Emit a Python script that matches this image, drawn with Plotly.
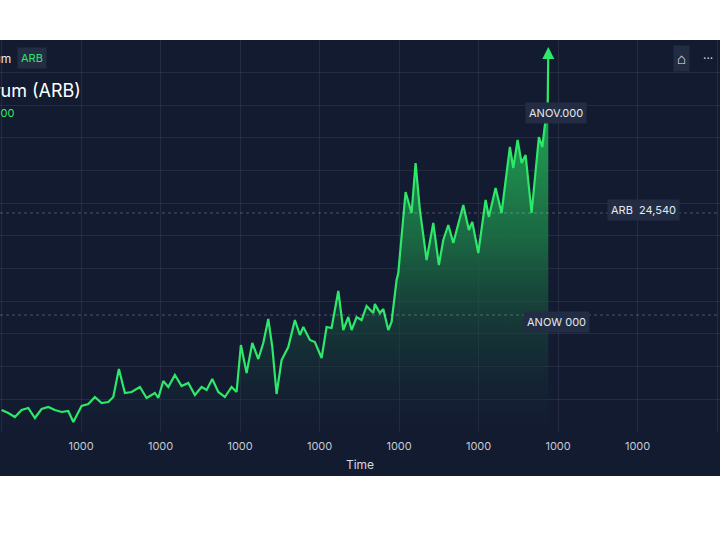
import plotly.graph_objects as go

# price trace (pixel positions converted to axis units below)
px_x = [0, 6.7, 13.3, 20, 26.7, 33.3, 40, 46.7, 53.3, 60, 66.7, 71.7, 80, 86.7, 93.3, 100, 106.7,
        111.7, 117.3, 123.3, 130, 138.3, 145, 153.3, 156.7, 161.7, 166.7, 173.3, 180, 186.7, 193.3,
        200, 205, 210.7, 216.7, 223.3, 230, 235, 239.3, 245, 250.7, 256.7, 261.7, 266.7, 270.7, 275,
        280, 286.7, 293.3, 298.3, 301.7, 308.3, 313.3, 316.7, 320, 325, 330, 336.7, 341.7, 346.7,
        350, 355, 360, 365, 371.7, 373.3, 378.3, 381.7, 386.7, 390, 395, 396.7, 404, 410, 414,
        418.3, 425, 431.7, 437.3, 441.7, 446.7, 451.7, 461.7, 467.3, 470.7, 476.7, 484, 487.3, 494,
        500, 508.3, 511.7, 516, 520, 524, 530, 537.3, 540.7, 543.3, 546, 546.7]
px_y = [410, 413, 417, 410, 408, 418, 409, 407, 410, 412, 411, 422, 406, 404, 397, 403, 402,
        397, 369, 393, 392, 387, 398, 393, 398, 381, 387, 375, 386, 383, 395,
        387, 390, 379, 392, 397, 387, 392, 345, 373, 343, 359, 343, 319, 347, 394,
        360, 347, 320, 335, 327, 340, 342, 350, 358, 327, 328, 291, 330, 317,
        330, 317, 320, 306, 313, 304, 313, 309, 330, 322, 280, 273, 192, 213, 163,
        210, 260, 223, 265, 240, 225, 243, 205, 230, 222, 253, 200, 217, 188,
        213, 147, 168, 140, 163, 155, 213, 137, 147, 125, 113, 53]

x_vals = [p / 79.5 for p in px_x]
y_vals = [(432 - p) / 32.67 for p in px_y]
tick_pos = list(range(10))
tick_text = ["1000"] * 10

BG = "#131b31"
CHIP = "#222c42"
GREEN = "#2ee86a"

fig = go.Figure()
fig.add_trace(go.Scatter(
    x=x_vals, y=y_vals, mode="lines",
    line=dict(color=GREEN, width=2.2),
    fill="tozeroy",
    fillgradient=dict(type="vertical",
                      colorscale=[[0, "rgba(19,27,49,0.2)"], [0.5, "rgba(28,120,70,0.8)"],
                                  [1, "rgba(36,200,95,1)"]]),
    hoverinfo="skip",
))

W, T, H = 720, 40, 392


def px(x):
    return x / W


def py(y):
    return (T + H - y) / H


shapes = [
    dict(type="rect", xref="paper", yref="paper", x0=-0.02, x1=1.02, y0=py(476), y1=py(40),
         fillcolor=BG, line=dict(width=0), layer="below"),
    dict(type="line", xref="paper", yref="y", x0=0, x1=1, y0=(432 - 213) / 32.67, y1=(432 - 213) / 32.67,
         line=dict(color="rgba(255,255,255,0.25)", width=1, dash="dot")),
    dict(type="line", xref="paper", yref="y", x0=0, x1=1, y0=(432 - 315) / 32.67, y1=(432 - 315) / 32.67,
         line=dict(color="rgba(255,255,255,0.25)", width=1, dash="dot")),
]

ann = []


def chip(x, y, text, color="#e6e9ef", size=11):
    ann.append(dict(xref="paper", yref="paper", x=px(x), y=py(y), text=text, showarrow=False,
                    font=dict(color=color, size=size, family="Inter"), bgcolor=CHIP,
                    borderpad=3, xanchor="center", yanchor="middle"))


chip(556, 113, "ANOV.000")
chip(556, 322, "ANOW 000")
chip(622, 210, "ARB")
chip(657, 210, "24,540")
chip(32, 58, "ARB", color=GREEN)
chip(681, 58, "⌂", size=15)
ann.append(dict(xref="paper", yref="paper", x=px(708), y=py(58), text="···", showarrow=False,
                font=dict(color="#cfd4dc", size=13), xanchor="center", yanchor="middle"))
ann.append(dict(xref="paper", yref="paper", x=px(13), y=py(58), text="Arbitrum", showarrow=False,
                font=dict(color="#e6e9ef", size=12, family="Inter"), xanchor="right", yanchor="middle"))
ann.append(dict(xref="paper", yref="paper", x=px(83), y=py(90), text="Arbitrum (ARB)", showarrow=False,
                font=dict(color="#ffffff", size=18, family="Inter"), xanchor="right", yanchor="middle"))
ann.append(dict(xref="paper", yref="paper", x=px(16), y=py(113), text="0.000", showarrow=False,
                font=dict(color=GREEN, size=11, family="Inter"), xanchor="right", yanchor="middle"))
# arrowhead at the top of the line
ann.append(dict(x=x_vals[-1], y=(432 - 47) / 32.67, ax=x_vals[-1], ay=y_vals[-1],
                xref="x", yref="y", axref="x", ayref="y", text="", showarrow=True,
                arrowhead=2, arrowsize=1.2, arrowwidth=2, arrowcolor=GREEN))

fig.update_layout(
    width=720, height=540,
    margin=dict(l=0, r=0, t=T, b=540 - T - H),
    paper_bgcolor="white", plot_bgcolor=BG,
    showlegend=False, shapes=shapes, annotations=ann,
    xaxis=dict(range=[-0.02, W / 79.5 - 0.02], tickvals=tick_pos, ticktext=tick_text,
               showgrid=True, gridcolor="rgba(255,255,255,0.08)", zeroline=False,
               tickfont=dict(color="#c5cad3", size=11, family="Inter"), ticks="",
               ticklabelstandoff=6,
               title=dict(text="Time", font=dict(color="#d5d9e0", size=12, family="Inter"), standoff=8)),
    yaxis=dict(range=[0, H / 32.67], dtick=1, showticklabels=False, showgrid=True,
               gridcolor="rgba(255,255,255,0.08)", zeroline=False),
)

fig.write_html("out.html", config={"displayModeBar": False},
               post_script="document.body.style.margin='0';")
